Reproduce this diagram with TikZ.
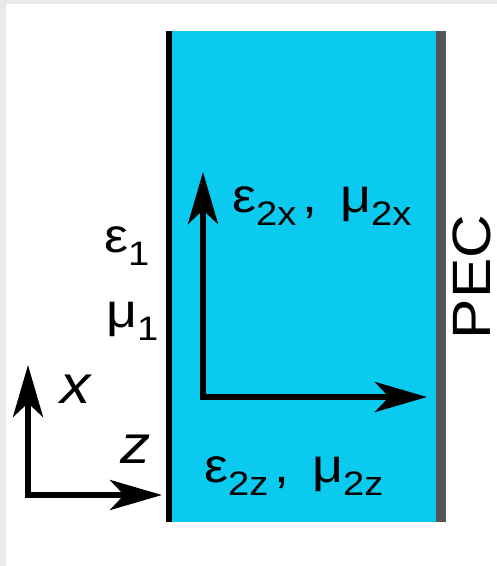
\documentclass[tikz,border=0pt]{standalone}
\usepackage{fontspec}
\setmainfont{Liberation Sans}[FakeStretch=1.12]
\usetikzlibrary{arrows.meta}

\definecolor{slabcyan}{RGB}{10,202,240}
\definecolor{pecgray}{RGB}{85,85,85}
\definecolor{framegray}{RGB}{233,233,233}

\newcommand{\lowsub}[1]{\raisebox{-13pt}{\fontsize{34}{38}\selectfont #1}}

\tikzset{
  axisarrow/.style={line width=6pt, line join=miter,
    {Stealth[length=52pt,width=30pt,inset=14pt]}-{Stealth[length=52pt,width=30pt,inset=14pt]}},
  greeklabel/.style={inner sep=0pt, anchor=base west, font=\fontsize{48}{56}\selectfont},
  axislabel/.style={inner sep=0pt, anchor=base west, font=\fontsize{54}{60}\selectfont\itshape}
}

\begin{document}
\begin{tikzpicture}[x=1pt,y=-1pt]
  \useasboundingbox (0,0) rectangle (497,566);
  % frame
  \fill[framegray] (0,0) rectangle (497,566);
  \fill[white] (6,4) rectangle (497,566);

  % the slab, its left face and the PEC wall
  \fill[slabcyan] (166,31) rectangle (446,522);
  \fill[black] (166,31) rectangle (172,522);
  \fill[pecgray] (436,31) rectangle (446,522);

  % axes
  \coordinate (origin) at (28,495);
  \coordinate (xtip) at (28,365);
  \coordinate (ztip) at (162,495);
  \draw[axisarrow] (xtip) -- (origin) -- (ztip);

  % arrows inside the slab
  \coordinate (corner) at (203,397);
  \coordinate (upTip) at (203,172);
  \coordinate (rightTip) at (427,397);
  \draw[axisarrow] (upTip) -- (corner) -- (rightTip);

  % labels
  \node[axislabel] (xlabel) at (60,403) {x};
  \node[axislabel] (zlabel) at (120,463) {z};
  \node[greeklabel] (eps1) at (104,252) {ε\lowsub{1}};
  \node[greeklabel] (mu1) at (106,327) {μ\lowsub{1}};
  \node[greeklabel] (eps2x) at (232,212) {ε\lowsub{2x}\hspace{6pt}, \hspace{8pt}μ\lowsub{2x}};
  \node[greeklabel] (eps2z) at (204,482) {ε\lowsub{2z}\hspace{6pt}, \hspace{8pt}μ\lowsub{2z}};
  \node[inner sep=0pt, anchor=base, rotate=90, font=\fontsize{54}{60}\selectfont] (pec) at (490,277) {PEC};
\end{tikzpicture}
\end{document}
